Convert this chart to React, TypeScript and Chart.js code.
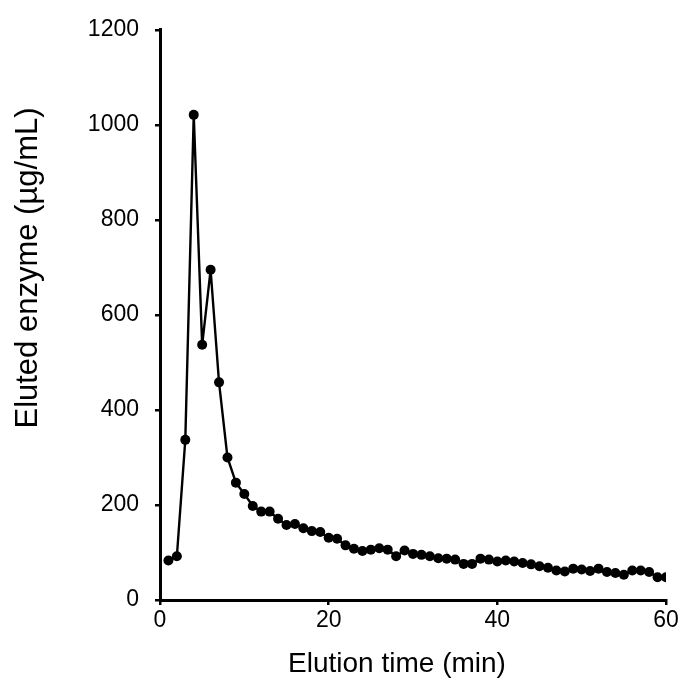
import React, { useEffect, useRef } from "react";
import { Chart, registerables } from "chart.js";

Chart.register(...registerables);

const elutionTime = [
  1, 2, 3, 4, 5, 6, 7, 8, 9, 10,
  11, 12, 13, 14, 15, 16, 17, 18, 19, 20,
  21, 22, 23, 24, 25, 26, 27, 28, 29, 30,
  31, 32, 33, 34, 35, 36, 37, 38, 39, 40,
  41, 42, 43, 44, 45, 46, 47, 48, 49, 50,
  51, 52, 53, 54, 55, 56, 57, 58, 59, 60,
];

const elutedEnzyme = [
  83, 92, 337, 1021, 537, 695, 458, 300, 247, 223,
  198, 186, 186, 171, 158, 160, 151, 145, 143, 131,
  129, 115, 108, 103, 106, 109, 106, 92, 104, 97,
  95, 92, 88, 87, 85, 76, 76, 87, 85, 81,
  83, 81, 78, 75, 71, 68, 62, 60, 66, 64,
  61, 66, 59, 57, 53, 62, 62, 59, 48, 48,
];

const xTickValues = [0, 20, 40, 60];
const yTickValues = [0, 200, 400, 600, 800, 1000, 1200];

const xTitle = "Elution time (min)";
const yTitle = "Eluted enzyme (µg/mL)";

const FONT = "'Liberation Sans', Arial, Helvetica, sans-serif";

export default function App() {
  const canvasRef = useRef<HTMLCanvasElement | null>(null);

  useEffect(() => {
    const canvas = canvasRef.current;
    if (!canvas) return;

    const titlePlugin = {
      id: "axisTitles",
      afterDraw(chart: any) {
        const ctx = chart.ctx as CanvasRenderingContext2D;
        ctx.save();
        ctx.fillStyle = "#000";
        ctx.textAlign = "center";
        ctx.textBaseline = "middle";
        ctx.font = `28px ${FONT}`;
        ctx.fillText(xTitle, 397, 664);
        ctx.translate(28, 268);
        ctx.rotate(-Math.PI / 2);
        ctx.font = `31px ${FONT}`;
        ctx.fillText(yTitle, 0, 0);
        ctx.restore();
      },
    };

    const chart = new Chart(canvas, {
      type: "scatter",
      data: {
        datasets: [
          {
            data: elutionTime.map((t, i) => ({ x: t, y: elutedEnzyme[i] })),
            showLine: true,
            borderColor: "#000",
            backgroundColor: "#000",
            borderWidth: 2.4,
            pointRadius: 5,
            pointBorderWidth: 0,
            pointHoverRadius: 5,
            tension: 0,
          },
        ],
      },
      options: {
        animation: false,
        responsive: false,
        devicePixelRatio: 1,
        events: [],
        layout: { padding: { top: 27, right: 15, left: 0, bottom: 0 } },
        plugins: {
          legend: { display: false },
          tooltip: { enabled: false },
          title: { display: false },
        },
        scales: {
          x: {
            type: "linear",
            min: 0,
            max: 60,
            afterBuildTicks: (s: any) => {
              s.ticks = xTickValues.map((v) => ({ value: v }));
            },
            afterFit: (s: any) => {
              s.height = 91;
            },
            grid: {
              drawOnChartArea: false,
              drawTicks: true,
              tickLength: 5,
              color: "#000",
              lineWidth: 2.5,
            },
            border: { display: true, color: "#000", width: 3 },
            ticks: {
              color: "#000",
              padding: 2,
              font: { family: FONT, size: 23 },
              maxRotation: 0,
              callback: (v: any) => String(v),
            },
          },
          y: {
            type: "linear",
            min: 0,
            max: 1200,
            afterBuildTicks: (s: any) => {
              s.ticks = yTickValues.map((v) => ({ value: v }));
            },
            afterFit: (s: any) => {
              s.width = 160;
            },
            grid: {
              drawOnChartArea: false,
              drawTicks: true,
              tickLength: 5,
              color: "#000",
              lineWidth: 2.5,
            },
            border: { display: true, color: "#000", width: 3 },
            ticks: {
              color: "#000",
              padding: 16,
              font: { family: FONT, size: 23 },
              callback: (v: any) => String(v),
            },
          },
        },
      },
      plugins: [titlePlugin],
    });

    return () => chart.destroy();
  }, []);

  return (
    <div style={{ position: "fixed", left: 0, top: 0, width: 681, height: 691, background: "#fff" }}>
      <canvas ref={canvasRef} width={681} height={691} style={{ display: "block" }} />
    </div>
  );
}
